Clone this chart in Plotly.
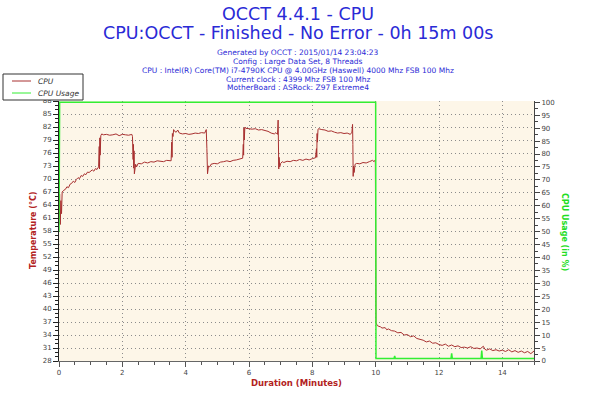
import plotly.graph_objects as go

# ---- data ----
time_min = [
    0, 0.02, 0.04, 0.06, 0.08, 0.1, 0.15, 0.2, 0.25, 0.3, 0.35, 0.4, 0.45, 0.5, 0.55, 0.6, 0.65, 0.7,
    0.75, 0.8, 0.85, 0.9, 0.95, 1.0, 1.05, 1.1, 1.15, 1.2, 1.25,
    1.27, 1.28, 1.29, 1.30, 1.32, 1.35, 1.4, 1.5, 1.6, 1.7, 1.8, 1.9, 2.0, 2.1, 2.2, 2.3, 2.32,
    2.34, 2.35, 2.36, 2.37, 2.38, 2.42, 2.45, 2.5, 2.6, 2.7, 2.8, 2.9, 3.0, 3.1, 3.2, 3.3, 3.4, 3.5, 3.54,
    3.56, 3.57, 3.58, 3.6, 3.62, 3.65, 3.7, 3.75, 3.8, 3.9, 4.0, 4.1, 4.2, 4.3, 4.4, 4.5, 4.6, 4.65,
    4.67, 4.68, 4.69, 4.72, 4.76, 4.8, 4.9, 5.0, 5.1, 5.2, 5.3, 5.4, 5.5, 5.6, 5.7, 5.8,
    5.82, 5.83, 5.84, 5.85, 5.87, 5.9, 6.0, 6.1, 6.2, 6.3, 6.4, 6.5, 6.6, 6.7, 6.8, 6.85, 6.9, 6.92,
    6.93, 6.94, 6.95, 6.97, 7.0, 7.05, 7.1, 7.2, 7.3, 7.4, 7.5, 7.6, 7.7, 7.8, 7.9, 8.0, 8.1,
    8.13, 8.14, 8.15, 8.16, 8.18, 8.2, 8.3, 8.4, 8.5, 8.6, 8.7, 8.8, 8.9, 9.0, 9.1, 9.2, 9.25, 9.27,
    9.28, 9.29, 9.3, 9.32, 9.35, 9.4, 9.5, 9.6, 9.7, 9.8, 9.9, 9.95, 9.99,
    10.01, 10.05, 10.1, 10.15, 10.2, 10.3, 10.35, 10.4, 10.5, 10.6, 10.7, 10.8, 10.9, 11.0, 11.1, 11.2,
    11.3, 11.4, 11.5, 11.6, 11.7, 11.8, 11.9, 12.0, 12.1, 12.2, 12.3, 12.4, 12.5, 12.6, 12.7, 12.8,
    12.9, 13.0, 13.1, 13.2, 13.3, 13.4, 13.45, 13.5, 13.6, 13.7, 13.8, 13.9, 14.0, 14.1, 14.2, 14.3,
    14.4, 14.5, 14.6, 14.7, 14.8, 14.9, 15.0,
]
cpu_temp = [
    61, 66.5, 59.5, 65, 62, 67, 67.4, 67.6, 68.2, 68.0, 68.8, 69.0, 69.5, 69.2, 69.9, 70.3, 70.1, 70.8,
    70.6, 71.2, 71.0, 71.6, 71.5, 71.9, 72.1, 71.8, 72.4, 72.2, 72.8,
    77.5, 72.3, 79.5, 75.5, 80.0, 80.4, 80.2, 80.3, 80.1, 80.2, 80.4, 80.0, 80.3, 80.2, 80.1, 80.3, 79.8,
    74.5, 78.0, 72.5, 76.5, 71.2, 73.4, 72.8, 73.6, 73.5, 73.9, 73.7, 74.0, 73.9, 74.2, 74.1, 74.0, 74.3, 74.1, 74.2,
    78.5, 75.0, 80.5, 79.8, 81.4, 81.0, 80.8, 81.3, 80.6, 80.4, 80.5, 80.3, 80.4, 80.6, 80.5, 80.7, 80.6, 81.4,
    77.0, 72.5, 71.2, 73.0, 72.8, 73.4, 73.6, 73.5, 73.9, 74.0, 74.2, 74.0, 74.3, 74.4, 74.6, 74.8,
    78.0, 75.5, 81.8, 79.0, 82.0, 81.7, 81.6, 81.5, 81.6, 81.3, 81.4, 81.2, 81.0, 80.6, 80.4, 80.7, 80.3, 83.6,
    79.0, 72.3, 75.0, 72.8, 73.6, 74.0, 73.8, 74.1, 74.0, 74.3, 74.2, 74.5, 74.3, 74.6, 74.4, 74.7, 74.9,
    77.0, 75.0, 80.5, 78.5, 81.5, 81.6, 81.4, 81.3, 81.0, 81.1, 80.8, 80.6, 80.7, 80.5, 80.6, 80.3, 80.8, 82.6,
    78.0, 70.6, 73.0, 71.5, 73.4, 73.6, 73.5, 73.8, 73.7, 74.0, 74.3, 74.0, 74.4,
    36.8, 36.2, 36.0, 35.9, 35.6, 35.7, 35.2, 35.4, 35.0, 34.9, 34.5, 34.6, 34.0, 34.1, 33.6, 33.8,
    33.2, 33.0, 32.8, 32.4, 32.6, 32.1, 32.2, 31.8, 31.6, 31.9, 31.4, 31.7, 31.3, 31.5, 31.1, 31.2,
    31.0, 31.3, 30.9, 31.0, 30.8, 31.4, 30.7, 30.5, 30.8, 30.4, 30.6, 30.3, 30.5, 30.2, 30.6, 30.1,
    30.4, 30.0, 30.3, 29.9, 30.2, 29.7, 30.3,
]
usage_time = [0, 0.01, 0.02, 10.0, 10.01, 10.1, 10.5, 10.58, 10.6, 10.62, 11.0, 11.5, 12.0, 12.38,
              12.4, 12.42, 13.0, 13.33, 13.35, 13.37, 14.0, 14.5, 15.0]
cpu_usage = [50, 100, 100, 100, 1, 1, 1, 1, 2, 1, 1, 1, 1, 1, 3, 1, 1, 1, 4, 1, 1, 1, 1]

temp_ticks = [28, 31, 34, 37, 40, 43, 46, 49, 52, 55, 58, 61, 64, 67, 70, 73, 76, 79, 82, 85, 88]
usage_ticks = [0, 5, 10, 15, 20, 25, 30, 35, 40, 45, 50, 55, 60, 65, 70, 75, 80, 85, 90, 95, 100]
minute_ticks = [0, 2, 4, 6, 8, 10, 12, 14]

series_names = ["CPU", "CPU Usage"]
title_lines = ["OCCT 4.4.1 - CPU", "CPU:OCCT - Finished - No Error - 0h 15m 00s"]
info_lines = [
    "Generated by OCCT : 2015/01/14 23:04:23",
    "Config : Large Data Set, 8 Threads",
    "CPU : Intel(R) Core(TM) i7-4790K CPU @ 4.00GHz (Haswell) 4000 Mhz FSB 100 Mhz",
    "Current clock : 4399 Mhz FSB 100 Mhz",
    "MotherBoard : ASRock: Z97 Extreme4",
]

# ---- figure ----
W, H = 596, 397
ML, MR, MT, MB = 59, 62, 101, 36
PW = W - ML - MR
PH = H - MT - MB
FONT = "DejaVu Sans"
BLUE = "#2a2ad6"
LABEL_RED = "#b22222"
TEMP_COLOR = "#a83030"
USAGE_COLOR = "#33ee33"
GREEN_LABEL = "#22dd22"
GRID_DASH = "1px,3px"


def px_x(p):
    return (p - ML) / PW


def px_y(p):
    return 1 + (MT - p) / PH


fig = go.Figure()
fig.add_trace(go.Scatter(x=time_min, y=cpu_temp, name=series_names[0], mode="lines",
                         line=dict(color=TEMP_COLOR, width=1), yaxis="y"))
fig.add_trace(go.Scatter(x=usage_time, y=cpu_usage, name=series_names[1], mode="lines",
                         line=dict(color=USAGE_COLOR, width=1.5), yaxis="y2"))

axis_font = dict(family=FONT, size=7, color="#444444")
fig.update_layout(
    width=W, height=H,
    margin=dict(l=ML, r=MR, t=MT, b=MB, pad=0, autoexpand=False),
    paper_bgcolor="white",
    plot_bgcolor="#fdf6e8",
    font=dict(family=FONT),
    showlegend=False,
    xaxis=dict(range=[0, 15], tickvals=minute_ticks, ticks="outside", ticklen=5, tickcolor="#555",
               tickfont=axis_font, showgrid=True, gridcolor="#8c8c8c", griddash=GRID_DASH, gridwidth=1,
               showline=True, linecolor="#666666", linewidth=1, zeroline=False,
               minor=dict(dtick=0.5, ticks="outside", ticklen=3, tickcolor="#555", showgrid=False)),
    yaxis=dict(range=[28, 88], tickvals=temp_ticks, ticks="outside", ticklen=5, tickcolor="#222",
               tickfont=axis_font, showgrid=True, gridcolor="#8c8c8c", griddash=GRID_DASH, gridwidth=1,
               showline=True, linecolor="#222222", linewidth=1, zeroline=False,
               minor=dict(dtick=1, ticks="outside", ticklen=3, tickcolor="#222", showgrid=False)),
    yaxis2=dict(range=[0, 100.5], tickvals=usage_ticks, overlaying="y", side="right", ticks="outside",
                ticklen=5, tickcolor="#444", tickfont=axis_font, showgrid=False,
                showline=True, linecolor="#444444", linewidth=1, zeroline=False,
                minor=dict(dtick=2.5, ticks="outside", ticklen=3, tickcolor="#444", showgrid=False)),
)

# manual legend box (kept outside the plot, does not push margins)
fig.add_shape(type="rect", xref="paper", yref="paper", x0=px_x(3), x1=px_x(83), y0=px_y(100), y1=px_y(74),
              line=dict(color="#333333", width=1), fillcolor="white", layer="above")
for i, (nm, col) in enumerate([(series_names[0], TEMP_COLOR), (series_names[1], USAGE_COLOR)]):
    yy = px_y(81 + i * 12)
    fig.add_shape(type="line", xref="paper", yref="paper", x0=px_x(12), x1=px_x(31), y0=yy, y1=yy,
                  line=dict(color=col, width=1), layer="above")
    fig.add_annotation(text=nm, xref="paper", yref="paper", x=px_x(36), y=yy, xanchor="left",
                       yanchor="middle", showarrow=False,
                       font=dict(family=FONT, size=7.5, color="#333333", style="italic"))

ann = []
ann.append(dict(text=title_lines[0], x=px_x(298), y=px_y(14), font=dict(size=17.5, color=BLUE, family=FONT)))
ann.append(dict(text=title_lines[1], x=px_x(298), y=px_y(33), font=dict(size=17.5, color=BLUE, family=FONT)))
for i, line in enumerate(info_lines):
    ann.append(dict(text=line, x=px_x(298), y=px_y(52 + i * 9), font=dict(size=7.5, color=BLUE, family=FONT)))
for a in ann:
    a.update(xref="paper", yref="paper", showarrow=False, xanchor="center", yanchor="middle")
    fig.add_annotation(**a)

fig.add_annotation(text="<b>Temperature (°C)</b>", xref="paper", yref="paper",
                   x=px_x(33), y=px_y(230), textangle=-90, showarrow=False,
                   font=dict(size=8, color=LABEL_RED, family=FONT), xanchor="center", yanchor="middle")
fig.add_annotation(text="<b>CPU Usage (in %)</b>", xref="paper", yref="paper",
                   x=px_x(565), y=px_y(232), textangle=90, showarrow=False,
                   font=dict(size=8, color=GREEN_LABEL, family=FONT), xanchor="center", yanchor="middle")
fig.add_annotation(text="<b>Duration (Minutes)</b>", xref="paper", yref="paper",
                   x=px_x(296), y=px_y(383), showarrow=False,
                   font=dict(size=8.5, color=LABEL_RED, family=FONT), xanchor="center", yanchor="middle")

# remove the browser's default 8px body margin so the figure sits at the page origin
fig.write_html("out.html", config={"displayModeBar": False},
               post_script="document.body.style.margin='0';document.body.style.overflow='hidden';")
